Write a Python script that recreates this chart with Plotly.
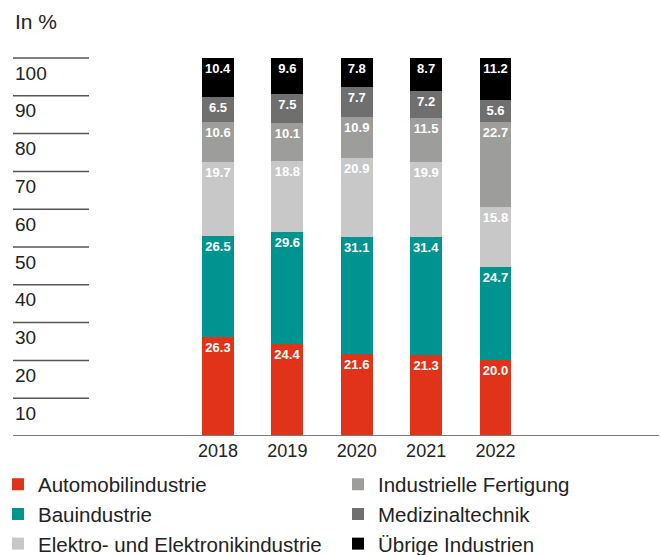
import plotly.graph_objects as go

years = ["2018", "2019", "2020", "2021", "2022"]
automobil = [26.3, 24.4, 21.6, 21.3, 20.0]
bau = [26.5, 29.6, 31.1, 31.4, 24.7]
elektro = [19.7, 18.8, 20.9, 19.9, 15.8]
fertigung = [10.6, 10.1, 10.9, 11.5, 22.7]
medizin = [6.5, 7.5, 7.7, 7.2, 5.6]
uebrige = [10.4, 9.6, 7.8, 8.7, 11.2]

series = [
    ("Automobilindustrie", automobil, "#E1321A", "legend"),
    ("Bauindustrie", bau, "#009490", "legend"),
    ("Elektro- und Elektronikindustrie", elektro, "#C8C8C8", "legend"),
    ("Industrielle Fertigung", fertigung, "#9D9D9B", "legend2"),
    ("Medizinaltechnik", medizin, "#6F6F6F", "legend2"),
    ("Übrige Industrien", uebrige, "#000000", "legend2"),
]
y_ticks = [10, 20, 30, 40, 50, 60, 70, 80, 90, 100]
y_tick_labels = ["10", "20", "30", "40", "50", "60", "70", "80", "90", "100"]

FONT = "Liberation Sans"
fig = go.Figure()
for name, vals, color, leg in series:
    fig.add_trace(go.Bar(
        x=years, y=vals, name=name, marker=dict(color=color, line=dict(width=0)),
        width=0.46, legend=leg, legendgroup=name,
        texttemplate="<b>%{y:.1f}</b>", textposition="inside", insidetextanchor="end",
        textangle=0,
        textfont=dict(color="white", size=13, family=FONT),
        hoverinfo="skip",
    ))

W, H = 661, 555
ml, mr, mt, mb = 13, 2, 50, 119
plot_w = W - ml - mr
plot_h = H - mt - mb
px_per_unit = 37.8 / 10
ymax = plot_h / px_per_unit

cat_px = 69.4
x0 = -(218 - ml) / cat_px
x1 = 4 + (W - mr - 495.5) / cat_px

shapes = []
for v in y_ticks:
    shapes.append(dict(type="line", xref="paper", yref="y", x0=0, x1=(89 - ml) / plot_w,
                       y0=v, y1=v, line=dict(color="#555555", width=1.5), layer="below"))
shapes.append(dict(type="line", xref="paper", yref="y", x0=0, x1=1, y0=0, y1=0,
                   line=dict(color="#7A7A7A", width=2)))

annotations = []
for v, lab in zip(y_ticks, y_tick_labels):
    annotations.append(dict(text=lab, xref="paper", yref="y", x=0, y=v - 4.0,
                            xanchor="left", yanchor="middle", showarrow=False,
                            font=dict(size=19, color="#222222", family=FONT)))
annotations.append(dict(text="In %", xref="paper", yref="paper", x=0,
                        y=(H - 22 - mb) / plot_h, xanchor="left", yanchor="middle",
                        showarrow=False, font=dict(size=21, color="#222222", family=FONT)))

leg_common = dict(orientation="v", yanchor="top", xanchor="left", traceorder="grouped",
                  tracegroupgap=0,
                  font=dict(size=20.5, color="#222222", family=FONT), itemclick=False,
                  bgcolor="rgba(0,0,0,0)", borderwidth=0)
leg_top = (436 - 464.5) / plot_h

fig.update_layout(
    width=W, height=H, margin=dict(l=ml, r=mr, t=mt, b=mb, autoexpand=False),
    barmode="stack",
    plot_bgcolor="white", paper_bgcolor="white",
    xaxis=dict(type="category", range=[x0, x1], showgrid=False, zeroline=False,
               showline=False, ticks="", ticklabelstandoff=2,
               tickfont=dict(size=18, color="#222222", family=FONT)),
    yaxis=dict(range=[0, ymax], showgrid=False, zeroline=False, showline=False,
               showticklabels=False, ticks=""),
    shapes=shapes, annotations=annotations,
    showlegend=True,
    legend=dict(x=(-2 - ml) / plot_w, y=leg_top, **leg_common),
    legend2=dict(x=(338 - ml) / plot_w, y=leg_top, **leg_common),
    uniformtext=dict(minsize=13, mode="show"),
)

fig.write_html("out.html")
